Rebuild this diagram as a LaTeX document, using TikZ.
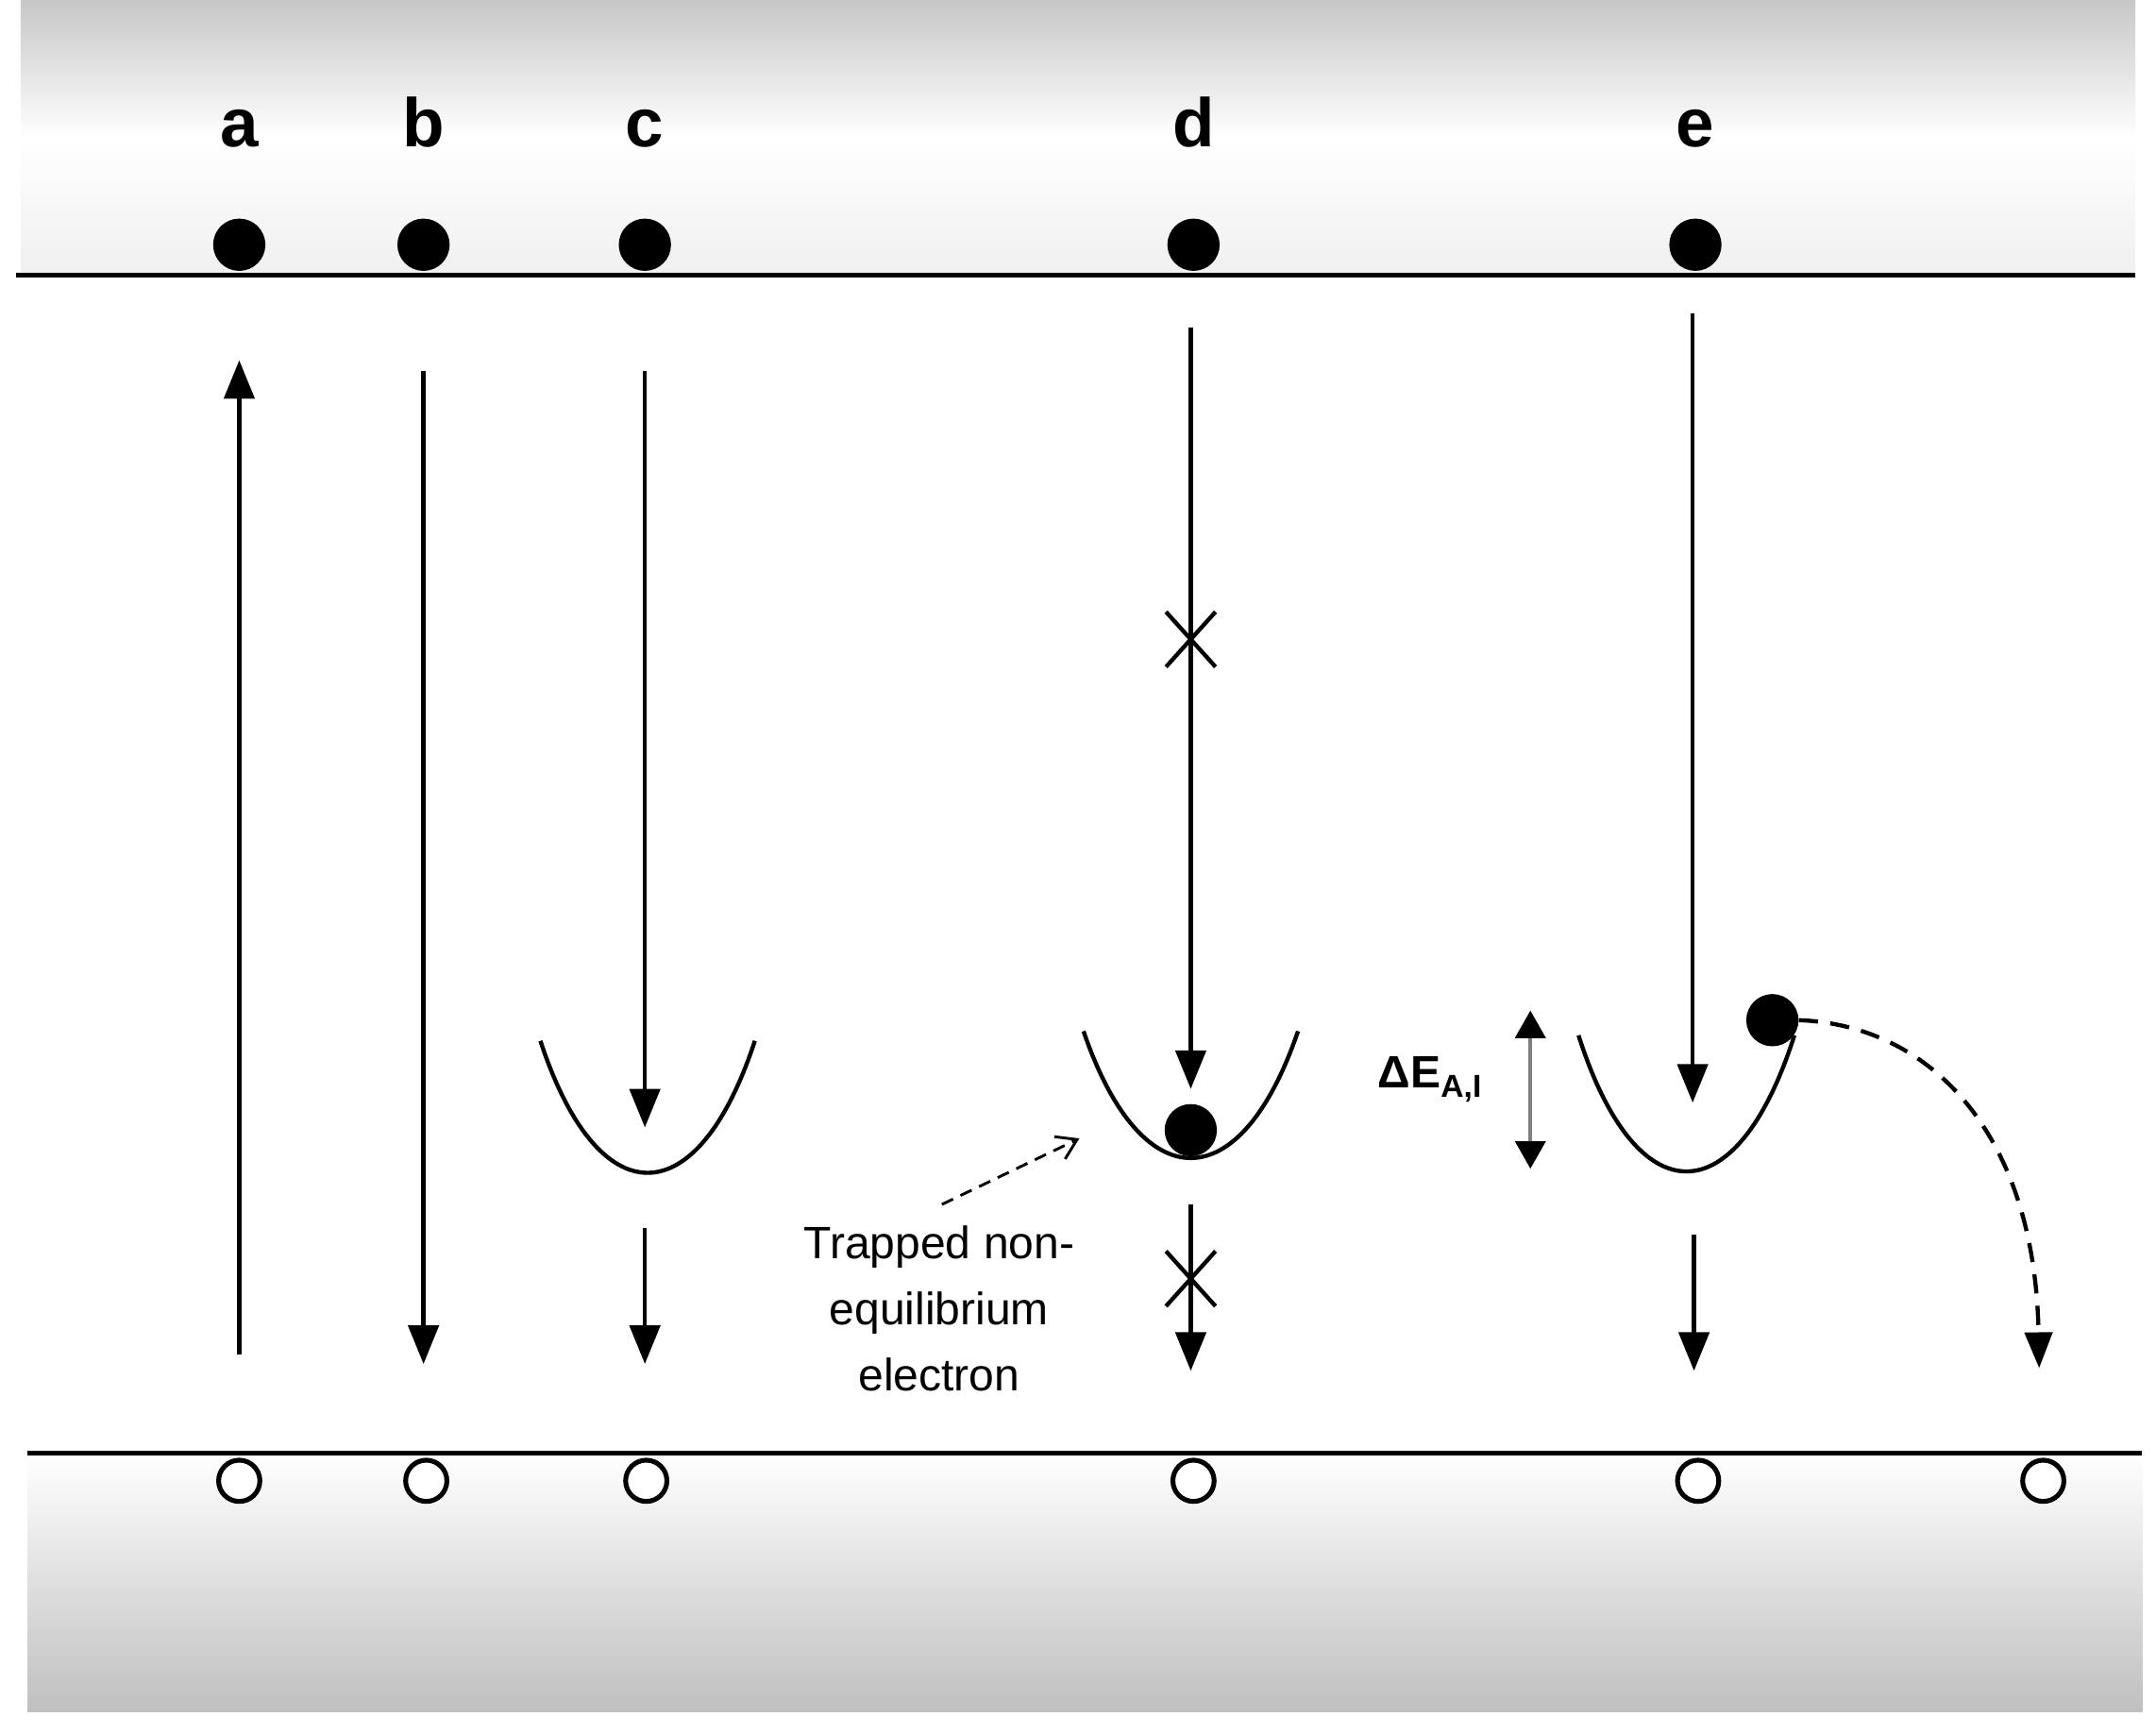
\documentclass[tikz,border=0pt]{standalone}
\usepackage{fontspec}
\setmainfont{Liberation Sans}
\usetikzlibrary{arrows.meta}
\begin{document}
\begin{tikzpicture}[x=1pt,y=-1pt,
  ln/.style={line width=3pt},
  arr/.style={ln,-{Triangle[length=28,width=22]}},
  darr/.style={ln,dashed,dash pattern=on 14pt off 9pt,-{Triangle[length=26,width=20]}},
  lab/.style={font=\fontsize{50}{50}\selectfont\bfseries,anchor=base},
  full/.style={circle,fill=black,minimum size=38pt,inner sep=0},
  hole/.style={circle,draw=black,line width=3.5pt,fill=white,minimum size=30pt,inner sep=0},
  cr/.style={ln}]
\useasboundingbox (0,0) rectangle (1568,1260);
\fill[fill=white] (0,0) rectangle (1568,1260);
\shade[top color=black!22,bottom color=black!6,middle color=white] (15,0) rectangle (1553,200);
\shade[top color=white,bottom color=black!25] (20,1057) rectangle (1558,1245);
\draw[ln] (12,200) -- (1553,200);
\draw[ln] (20,1057) -- (1558,1057);
\foreach \x/\l in {174/a,308/b,469/c,868/d,1233/e}{
  \node[lab] (L\l) at (\x,107) {\l};
  \node[full] (F\l) at (\x,178) {};}
\foreach \x/\n in {174/a,310/b,470/c,868/d,1235/e,1486/f}
  \node[hole] (H\n) at (\x,1077) {};
% a
\coordinate (a1) at (174,985); \coordinate (a2) at (174,262);
\draw[arr] (a1) -- (a2);
% b
\coordinate (b1) at (308,270); \coordinate (b2) at (308,992);
\draw[arr] (b1) -- (b2);
% c
\coordinate (c1) at (469,270); \coordinate (c2) at (469,820);
\draw[arr] (c1) -- (c2);
\draw[ln] (393,757) .. controls (435,885) and (507,885) .. (549,757);
\coordinate (c3) at (469,893); \coordinate (c4) at (469,992);
\draw[arr] (c3) -- (c4);
% d
\coordinate (d1) at (866,238); \coordinate (d2) at (866,792);
\draw[arr] (d1) -- (d2);
\draw[cr] (848,445) -- (884,485) (884,445) -- (848,485);
\draw[ln] (788,750) .. controls (830,873) and (902,873) .. (944,750);
\node[full] (dd) at (866,822) {};
\coordinate (d3) at (866,876); \coordinate (d4) at (866,997);
\draw[arr] (d3) -- (d4);
\draw[cr] (848,910) -- (884,950) (884,910) -- (848,950);
\node[align=center,font=\fontsize{33}{48}\selectfont] (txt) at (683,952) {Trapped non-\\equilibrium\\electron};
\coordinate (t1) at (685,876); \coordinate (t2) at (785,828);
\draw[ln,line width=2pt,dashed,dash pattern=on 9pt off 6pt,-{Straight Barb[length=14,width=18]}] (t1) -- (t2);
% e
\coordinate (e1) at (1231,228); \coordinate (e2) at (1231,802);
\draw[arr] (e1) -- (e2);
\draw[ln] (1148,753) .. controls (1190,885) and (1263,885) .. (1305,753);
\node[full] (ed) at (1289,742) {};
\coordinate (e3) at (1483,995);
\draw[darr] (ed.east) .. controls (1400,745) and (1480,820) .. (e3);
\coordinate (e4) at (1232,898); \coordinate (e5) at (1232,997);
\draw[arr] (e4) -- (e5);
% Delta E
\node[font=\fontsize{33}{33}\selectfont\bfseries] (dE) at (1040,785) {ΔE\textsubscript{A,I}};
\coordinate (g1) at (1113,735); \coordinate (g2) at (1113,850);
\draw[line width=2.5pt,black!50,{Triangle[length=20,width=22,fill=black,color=black]}-{Triangle[length=20,width=22,fill=black,color=black]}] (g1) -- (g2);
\end{tikzpicture}
\end{document}
